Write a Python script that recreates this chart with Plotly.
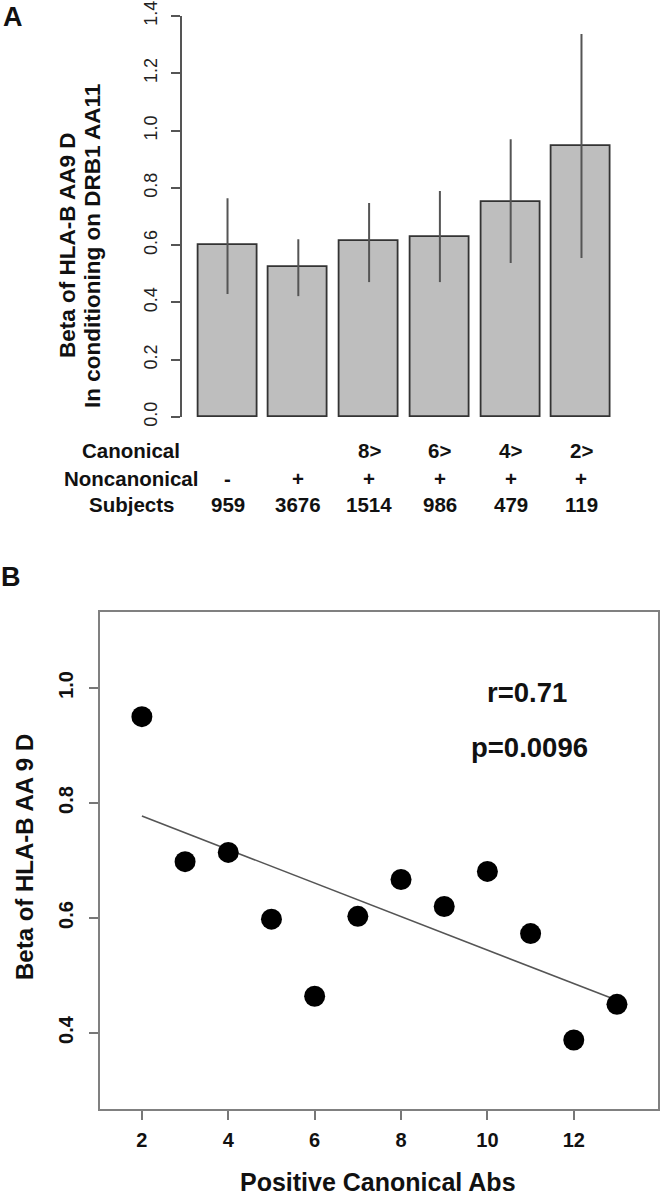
import numpy as np
import plotly.graph_objects as go

W, H = 664, 1195
FONT = "Liberation Sans, Arial, sans-serif"

# ---------------- Panel A data ----------------
bar_pos = [0.7, 1.9, 3.1, 4.3, 5.5, 6.7]
betas = [0.600, 0.525, 0.614, 0.628, 0.750, 0.946]
upper = [0.764, 0.621, 0.747, 0.789, 0.970, 1.337]
lower = [0.429, 0.422, 0.471, 0.471, 0.538, 0.555]
canonical = ["", "", "8>", "6>", "4>", "2>"]
noncanonical = ["-", "+", "+", "+", "+", "+"]
subjects = ["959", "3676", "1514", "986", "479", "119"]
row_labels = ["Canonical", "Noncanonical", "Subjects"]
ytick_a = [0.0, 0.2, 0.4, 0.6, 0.8, 1.0, 1.2, 1.4]

# ---------------- Panel B data ----------------
abs_count = [2, 3, 4, 5, 6, 7, 8, 9, 10, 11, 12, 13]
beta_b = [0.950, 0.698, 0.714, 0.598, 0.464, 0.603, 0.667, 0.620, 0.681, 0.573, 0.388, 0.450]
xtick_b = [2, 4, 6, 8, 10, 12]
ytick_b = [0.4, 0.6, 0.8, 1.0]


def px_x(p):
    return p / W


def px_y(p):
    return 1 - p / H


fig = go.Figure()

err_plus = [u - b for u, b in zip(upper, betas)]
err_minus = [b - l for b, l in zip(betas, lower)]

fig.add_trace(go.Bar(
    x=bar_pos, y=betas, width=1.0,
    marker=dict(color="#BEBEBE", line=dict(color="#333333", width=1.8)),
    error_y=dict(type="data", symmetric=False, array=err_plus, arrayminus=err_minus,
                 width=0, thickness=2, color="#555555"),
    xaxis="x", yaxis="y", showlegend=False, hoverinfo="skip",
))

# regression line
slope, intercept = np.polyfit(abs_count, beta_b, 1)
lx = [min(abs_count), max(abs_count)]
ly = [slope * v + intercept for v in lx]
fig.add_trace(go.Scatter(
    x=lx, y=ly, mode="lines", line=dict(color="#555555", width=1.6),
    xaxis="x2", yaxis="y2", showlegend=False, hoverinfo="skip",
))
fig.add_trace(go.Scatter(
    x=abs_count, y=beta_b, mode="markers",
    marker=dict(color="black", size=21, line=dict(width=0)),
    xaxis="x2", yaxis="y2", showlegend=False, hoverinfo="skip",
))

tick_font_a = dict(family=FONT, size=18, color="#222222")
tick_font_b = dict(family=FONT, size=20, color="#111111", weight="bold")

fig.update_layout(
    width=W, height=H,
    margin=dict(l=0, r=0, t=0, b=0, autoexpand=False),
    paper_bgcolor="white", plot_bgcolor="white",
    bargap=0,
    xaxis=dict(domain=[px_x(181.5), px_x(627.5)], range=[-0.08, 7.48],
               visible=False, fixedrange=True, automargin=False),
    yaxis=dict(domain=[px_y(417), px_y(16)], range=[0, 1.4], automargin=False,
               tickvals=ytick_a, ticktext=[f"{v:.1f}" for v in ytick_a],
               tickangle=-90, ticks="outside", ticklen=9, tickwidth=1.5,
               tickcolor="#555555", showline=True, linecolor="#555555", linewidth=1.8,
               showgrid=False, zeroline=False, tickfont=tick_font_a,
               ticklabelstandoff=6),
    xaxis2=dict(domain=[px_x(100), px_x(658)], range=[1.03, 13.95], anchor="y2",
                automargin=False,
                tickvals=xtick_b, ticktext=[str(v) for v in xtick_b],
                ticks="outside", ticklen=9, tickwidth=1.5, tickcolor="#777777",
                showline=True, mirror=True, linecolor="#808080", linewidth=2,
                showgrid=False, zeroline=False, tickfont=tick_font_b,
                ticklabelstandoff=3),
    yaxis2=dict(domain=[px_y(1109), px_y(612)], range=[0.268, 1.132], anchor="x2",
                automargin=False,
                tickvals=ytick_b, ticktext=[f"{v:.1f}" for v in ytick_b],
                tickangle=-90, ticks="outside", ticklen=9, tickwidth=1.5,
                tickcolor="#777777", showline=True, mirror=True, linecolor="#808080",
                linewidth=2, showgrid=False, zeroline=False, tickfont=tick_font_b,
                ticklabelstandoff=8),
)

ann = []


def add_text(text, x, y, size, bold=True, xref="paper", angle=0, color="#111111"):
    ann.append(dict(
        text=f"<b>{text}</b>" if bold else text,
        x=x, y=y, xref=xref, yref="paper", showarrow=False,
        xanchor="center", yanchor="middle", textangle=angle,
        font=dict(family=FONT, size=size, color=color),
    ))


# panel letters
add_text("A", px_x(13), px_y(17), 27)
add_text("B", px_x(11), px_y(577), 27)

# panel A y-title
add_text("Beta of HLA-B AA9 D", px_x(68), px_y(246), 22.5, angle=-90)
add_text("In conditioning on DRB1 AA11", px_x(93), px_y(246), 22.5, angle=-90)

# panel A row labels
row_y = [px_y(450), px_y(478), px_y(504)]
for lab, yy in zip(row_labels, row_y):
    add_text(lab, px_x(131), yy, 20.5)
for i, xpos in enumerate(bar_pos):
    if canonical[i]:
        add_text(canonical[i], xpos, row_y[0], 20.5, xref="x")
    add_text(noncanonical[i], xpos, row_y[1], 20.5, xref="x")
    add_text(subjects[i], xpos, row_y[2], 20.5, xref="x")

# panel B titles and stats
add_text("Beta of HLA-B AA 9 D", px_x(25), px_y(857), 24, angle=-90)
add_text("Positive Canonical Abs", px_x(377.5), px_y(1182), 25)
add_text("r=0.71", px_x(527), px_y(692), 27.5)
add_text("p=0.0096", px_x(529), px_y(747), 27.5)

fig.update_layout(annotations=ann)

post = (
    "document.documentElement.style.margin='0';"
    "document.documentElement.style.overflow='hidden';"
    "document.body.style.margin='0';document.body.style.padding='0';"
    "document.body.style.overflow='hidden';"
    "var gd=document.getElementById('{plot_id}');"
    "gd.style.position='fixed';gd.style.top='0px';gd.style.left='0px';"
)

fig.write_html("out.html", config={"displayModeBar": False}, post_script=post)
